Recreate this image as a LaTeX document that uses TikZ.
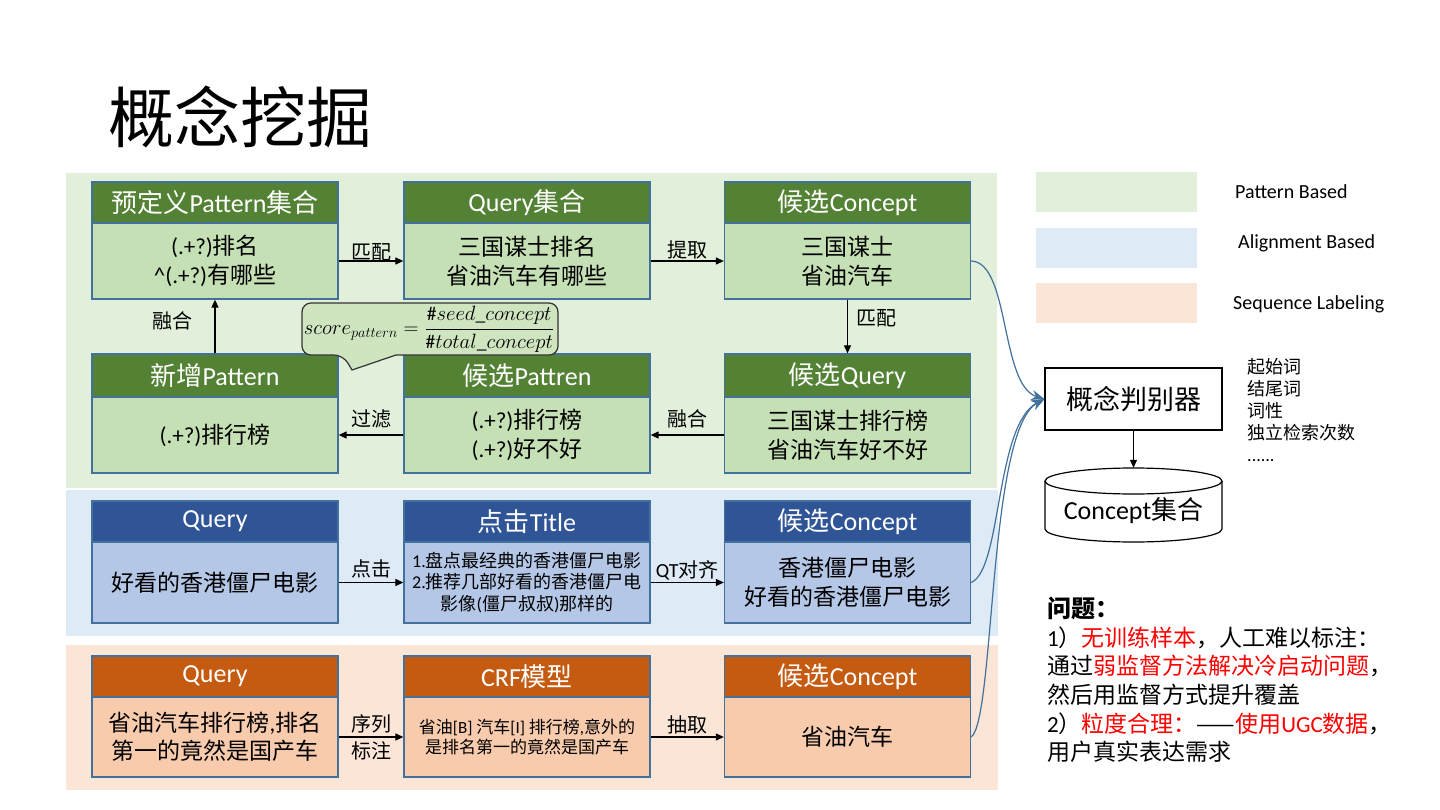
\documentclass[tikz,border=0pt]{standalone}
\usepackage{fontspec}
\setmainfont{Carlito}
\newfontfamily\cjk{Noto Sans CJK SC}
\usetikzlibrary{arrows.meta}
\newcommand\zh[1]{{\cjk #1}}
\newcommand\en[1]{{\rmfamily #1}}
\definecolor{gbg}{HTML}{E2EFDA}
\definecolor{ghdr}{HTML}{548235}
\definecolor{gbody}{HTML}{C5E0B4}
\definecolor{bbg}{HTML}{DEEBF7}
\definecolor{bhdr}{HTML}{2F5597}
\definecolor{bbody}{HTML}{B4C7E7}
\definecolor{obg}{HTML}{FBE5D6}
\definecolor{ohdr}{HTML}{C55A11}
\definecolor{obody}{HTML}{F8CBAD}
\definecolor{bord}{HTML}{41719C}
\definecolor{curvec}{HTML}{41719C}
\definecolor{callfill}{HTML}{CFE5C0}
\definecolor{redtxt}{HTML}{FF0000}
\begin{document}
\begin{tikzpicture}[x=1pt,y=-1pt,
  hdr/.style={draw=bord, line width=1.3pt, minimum width=246pt, minimum height=41pt, inner sep=0pt, text=white, font=\fontsize{26}{30}\selectfont},
  bod/.style={draw=bord, line width=1.3pt, minimum width=246pt, inner sep=0pt, align=center, font=\fontsize{23}{29}\selectfont\cjk},
  small/.style={font=\fontsize{18}{21.5}\selectfont\cjk},
  arr/.style={-{Triangle[length=8pt,width=7pt]}, line width=1.2pt},
  lbl/.style={font=\fontsize{20}{24}\selectfont\cjk, inner sep=1pt},
  curve/.style={draw=curvec, line width=1.2pt, -{Stealth[length=13pt,width=10pt]}},
  legend/.style={minimum width=161pt, minimum height=40pt, inner sep=0pt},
  legtxt/.style={anchor=west, inner sep=0pt, font=\fontsize{20}{24}\selectfont}
]
\useasboundingbox (0,0) rectangle (1440,810);
\fill[white] (0,0) rectangle (1440,810);

% title
\node[anchor=west, font=\fontsize{66}{70}\selectfont\cjk, inner sep=0pt] (title) at (108,117) {概念挖掘};

% section backgrounds
\fill[gbg] (66,173) rectangle (997,488);
\fill[bbg] (66,490) rectangle (998,636);
\fill[obg] (66,645) rectangle (998,790);

% ---- Pattern based ----
\node[bod, fill=gbody, minimum height=76pt] (pb) at (215,261) {\en{(.+?)}排名\\\en{\textasciicircum(.+?)}有哪些};
\node[hdr, fill=ghdr] (ph) at (215,202.5) {\zh{预定义}Pattern\zh{集合}};
\node[bod, fill=gbody, minimum height=76pt] (qb) at (527,261) {三国谋士排名\\省油汽车有哪些};
\node[hdr, fill=ghdr] (qh) at (527,202.5) {Query\zh{集合}};
\node[bod, fill=gbody, minimum height=76pt] (cb) at (847.5,261) {三国谋士\\省油汽车};
\node[hdr, fill=ghdr] (ch) at (847.5,202.5) {\zh{候选}Concept};

\node[bod, fill=gbody, minimum height=76pt] (nb) at (215,435) {\en{(.+?)}排行榜};
\node[hdr, fill=ghdr, minimum height=43pt] (nh) at (215,375.5) {\zh{新增}Pattern};
\node[bod, fill=gbody, minimum height=76pt] (xb) at (527,435) {\en{(.+?)}排行榜\\\en{(.+?)}好不好};
\node[hdr, fill=ghdr, minimum height=43pt] (xh) at (527,375.5) {\zh{候选}Pattren};
\node[bod, fill=gbody, minimum height=76pt] (yb) at (847.5,435) {三国谋士排行榜\\省油汽车好不好};
\node[hdr, fill=ghdr, minimum height=43pt] (yh) at (847.5,375.5) {\zh{候选}Query};

\draw[arr] (pb.east) -- node[lbl, above=-2pt] {匹配} (qb.west);
\draw[arr] (qb.east) -- node[lbl, above=0pt] {提取} (cb.west);
\draw[arr] (cb.south) -- node[lbl, right=7pt, pos=0.35] {匹配} (yh.north);
\draw[arr] (yb.west) -- node[lbl, above=5pt] {融合} (xb.east);
\draw[arr] (xb.west) -- node[lbl, above=5pt] {过滤} (nb.east);
\draw[arr] (nh.north) -- node[lbl, left=21pt, pos=0.6] {融合} (pb.south);

% callout
\draw[fill=callfill, draw=black!80, line width=1.2pt] (396,355) [rounded corners=9pt] -- (558,355) -- (558,303) -- (302,303) -- (302,355) -- (343,355) [sharp corners] -- (352,370) -- cycle;
\node[inner sep=0pt, font=\fontsize{19.5}{21}\selectfont] (formula) at (429,329) {$\displaystyle score_{pattern}=\frac{\#seed\_concept}{\#total\_concept}$};

% ---- Alignment based ----
\node[bod, fill=bbody, minimum height=81pt] (bqb) at (215,582.5) {好看的香港僵尸电影};
\node[hdr, fill=bhdr] (bqh) at (215,521.5) {Query};
\node[bod, small, fill=bbody, minimum height=81pt] (btb) at (527,582.5) {\en{1.}盘点最经典的香港僵尸电影\\\en{2.}推荐几部好看的香港僵尸电\\影像\en{(}僵尸叔叔\en{)}那样的};
\node[hdr, fill=bhdr] (bth) at (527,521.5) {\zh{点击}Title};
\node[bod, fill=bbody, minimum height=81pt] (bcb) at (847.5,582.5) {香港僵尸电影\\好看的香港僵尸电影};
\node[hdr, fill=bhdr] (bch) at (847.5,521.5) {\zh{候选}Concept};

\draw[arr] (bqb.east) -- node[lbl, above=3pt] {点击} (btb.west);
\draw[arr] (btb.east) -- node[lbl, above=1pt] {\en{QT}对齐} (bcb.west);

% ---- Sequence labeling ----
\node[bod, fill=obody, minimum height=80pt, font=\fontsize{23}{28}\selectfont\cjk] (oqb) at (215,737) {省油汽车排行榜\en{,}排名\\第一的竟然是国产车};
\node[hdr, fill=ohdr] (oqh) at (215,676.5) {Query};
\node[bod, fill=obody, minimum height=80pt, font=\fontsize{17}{20.5}\selectfont\cjk] (ocb) at (527,737) {省油\en{[B]} 汽车\en{[I]} 排行榜\en{,}意外的\\是排名第一的竟然是国产车};
\node[hdr, fill=ohdr] (och) at (527,676.5) {CRF\zh{模型}};
\node[bod, fill=obody, minimum height=80pt] (occb) at (847.5,737) {省油汽车};
\node[hdr, fill=ohdr] (occh) at (847.5,676.5) {\zh{候选}Concept};

\draw[arr] (oqb.east) -- node[lbl, align=center, font=\fontsize{20}{27}\selectfont\cjk] {序列\\标注} (ocb.west);
\draw[arr] (ocb.east) -- node[lbl, above=1pt] {抽取} (occb.west);

% ---- legend ----
\node[legend, fill=gbg] (lg) at (1116.5,192.5) {};
\node[legend, fill=bbg] (lb) at (1116.5,248) {};
\node[legend, fill=obg] (lo) at (1116.5,303) {};
\node[legtxt] (lgt) at (1235,192) {Pattern Based};
\node[legtxt] (lbt) at (1238,243) {Alignment Based};
\node[legtxt] (lot) at (1233,304) {Sequence Labeling};

% ---- judge and store ----
\node[draw, line width=1.2pt, minimum width=177pt, minimum height=62pt, font=\fontsize{27}{30}\selectfont\cjk] (judge) at (1133.5,399) {概念判别器};
\node[minimum width=177pt, minimum height=74pt, inner sep=0pt] (db) at (1133.5,505) {};
\draw[line width=1.2pt] (1133.5,481) ellipse[x radius=88.5pt, y radius=13pt];
\draw[line width=1.2pt] (1045,481) -- (1045,529) arc[start angle=180, end angle=360, x radius=88.5pt, y radius=13pt] -- (1222,481);
\node[inner sep=0pt, font=\fontsize{26}{30}\selectfont] (dbl) at (1133.5,511) {Concept\zh{集合}};
\draw[arr] (judge.south) -- (db.north);

\node[anchor=north west, align=left, inner sep=0pt, font=\fontsize{18}{22}\selectfont\cjk] (feat) at (1247,358) {起始词\\结尾词\\词性\\独立检索次数\\\en{......}};

% curves
\draw[curve] (cb.east) .. controls (1010,262) and (1000,385) .. (judge.west);
\draw[curve] (bcb.east) .. controls (1002,570) and (995,425) .. (judge.west);
\draw[curve] (occb.east) .. controls (995,720) and (988,430) .. (judge.west);

% problems
\node[anchor=north west, align=left, inner sep=0pt, font=\fontsize{23}{28.6}\selectfont\cjk] (prob) at (1047,597) {{\fontsize{24}{28.6}\selectfont\bfseries 问题：}\\
\en{1}）\textcolor{redtxt}{无训练样本}，人工难以标注：\\
通过\textcolor{redtxt}{弱监督方法解决冷启动问题}，\\
然后用监督方式提升覆盖\\
\en{2}）\textcolor{redtxt}{粒度合理：}——\textcolor{redtxt}{使用\en{UGC}数据}，\\
用户真实表达需求};
\end{tikzpicture}
\end{document}
